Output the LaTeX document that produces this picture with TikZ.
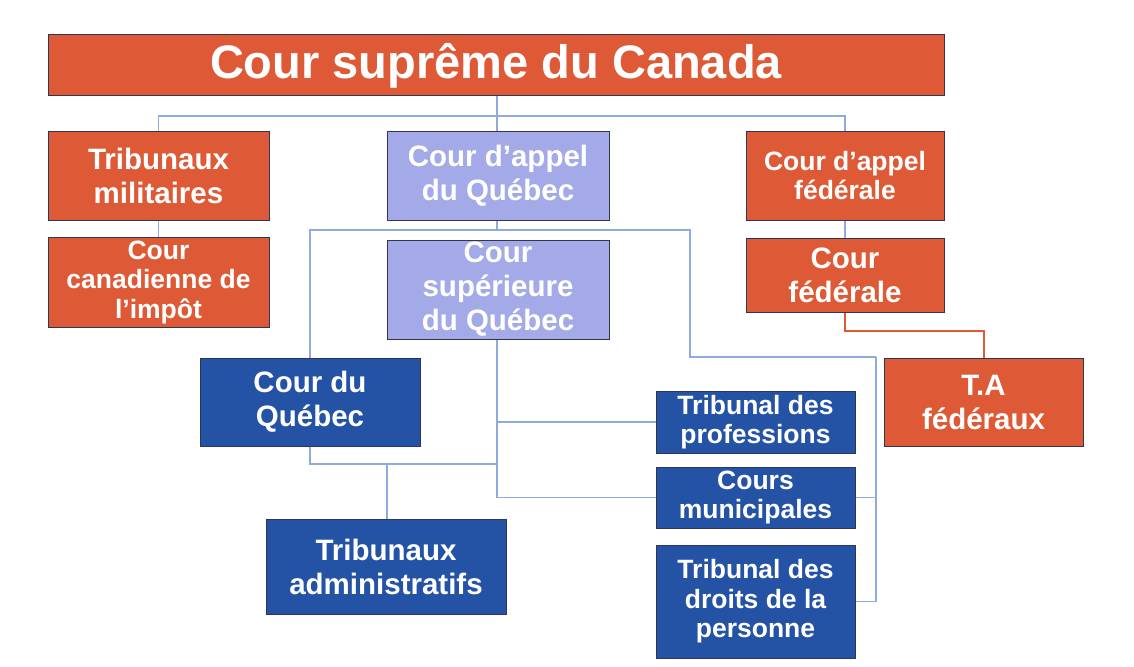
\documentclass[tikz,border=0pt]{standalone}
\usepackage{fontspec}
\setmainfont{Liberation Sans}
\definecolor{orng}{HTML}{DE5A36}
\definecolor{lav}{HTML}{A4AAE8}
\definecolor{dblue}{HTML}{2453A6}
\definecolor{edge}{HTML}{2E3650}
\definecolor{conn}{HTML}{8FAADC}
\begin{document}
\begin{tikzpicture}[x=1pt,y=-1pt,
  box/.style={draw=edge, line width=1pt, inner sep=0pt, align=center, text=white, font=\bfseries},
  obox/.style={box, fill=orng},
  lbox/.style={box, fill=lav},
  bbox/.style={box, fill=dblue},
  bigtxt/.style={font=\bfseries\fontsize{29.5}{34}\selectfont},
  smtxt/.style={font=\bfseries\fontsize{26.5}{29.5}\selectfont},
  cline/.style={draw=conn, line width=1.2pt},
  oline/.style={draw=orng, line width=2pt}]
\useasboundingbox[fill=white] (0,0) rectangle (1134,666);
% nodes
\node[obox, minimum width=896pt, minimum height=61pt, font=\bfseries\fontsize{47}{52}\selectfont] (sup) at (496,65.5) {Cour suprême du Canada};
\node[obox, bigtxt, minimum width=221pt, minimum height=89pt] (mil) at (158.5,175.5) {Tribunaux\\militaires};
\node[lbox, bigtxt, minimum width=222pt, minimum height=89pt] (caq) at (498,175.5) {Cour d’appel\\du Québec};
\node[obox, smtxt, minimum width=198pt, minimum height=89pt] (caf) at (845,175.5) {Cour d’appel\\fédérale};
\node[obox, smtxt, minimum width=221pt, minimum height=90pt] (imp) at (158.5,282) {Cour\\canadienne de\\l’impôt};
\node[lbox, bigtxt, minimum width=222pt, minimum height=99pt] (csq) at (498,289.5) {Cour\\supérieure\\du Québec};
\node[obox, bigtxt, minimum width=198pt, minimum height=74pt] (cf) at (845,275) {Cour\\fédérale};
\node[obox, bigtxt, minimum width=199pt, minimum height=88pt] (taf) at (983.5,402) {T.A\\fédéraux};
\node[bbox, bigtxt, minimum width=220pt, minimum height=88pt] (cq) at (310,402) {Cour du\\Québec};
\node[bbox, smtxt, minimum width=199pt, minimum height=62pt] (tp) at (755.5,422) {Tribunal des\\professions};
\node[bbox, smtxt, minimum width=199pt, minimum height=61pt] (cm) at (755.5,497.5) {Cours\\municipales};
\node[bbox, smtxt, minimum width=199pt, minimum height=113pt] (td) at (755.5,601.5) {Tribunal des\\droits de la\\personne};
\node[bbox, bigtxt, minimum width=240pt, minimum height=95pt] (ta) at (386,566.5) {Tribunaux\\administratifs};
% bus coordinates
\coordinate (b1) at (497,116);
\coordinate (b2) at (497,230);
\coordinate (b3) at (497,464);
\coordinate (rb) at (876,357);
% connectors from the Supreme Court
\draw[cline] (sup.south -| b1) -- (b1);
\draw[cline] (mil.north) |- (b1);
\draw[cline] (caf.north) |- (b1);
\draw[cline] (b1) -- (caq.north -| b1);
\draw[cline] (mil.south) -- (imp.north);
% Cour d'appel du Quebec
\draw[cline] (caq.south -| b2) -- (b2);
\draw[cline] (cq.north) |- (b2);
\draw[cline] (b2) -- (690,230) -- (690,357) -- (rb);
\draw[cline] (rb) |- (td.east);
\draw[cline] (cm.east) -- (cm.east -| rb);
% Cour superieure
\draw[cline] (csq.south -| b2) -- (497,497.5) -- (cm.west);
\draw[cline] (tp.west) -- (tp.west -| b2);
\draw[cline] (cq.south) |- (b3);
\draw[cline] (ta.north -| 387,0) -- (387,464);
% federal
\draw[cline] (caf.south) -- (cf.north);
\draw[oline] (cf.south) -- (845,331) -| (taf.north);
\end{tikzpicture}
\end{document}
